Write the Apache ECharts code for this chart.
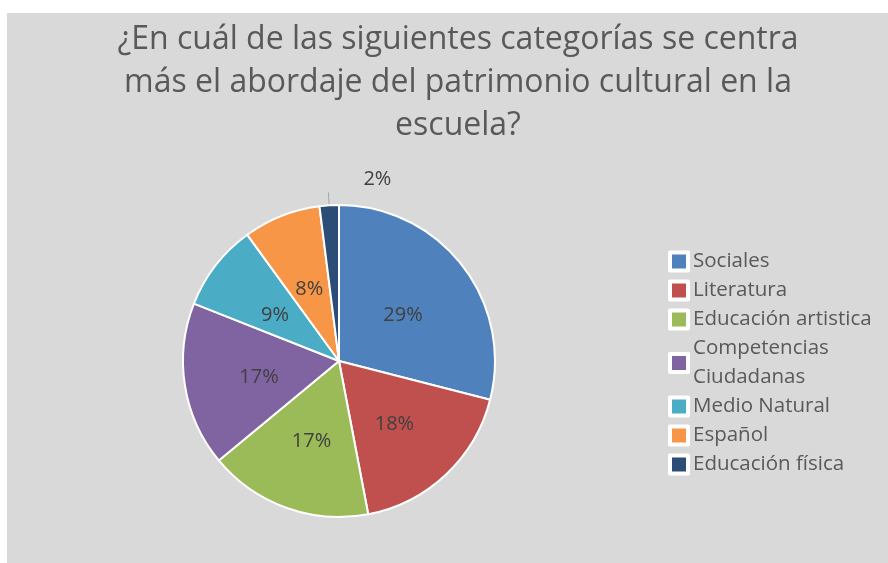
<!DOCTYPE html>
<html>
<head>
<meta charset="utf-8">
<script src="https://cdn.jsdelivr.net/npm/echarts@6/dist/echarts.min.js"></script>
<style>
  body { margin: 0; background: #ffffff; }
  #main { position: absolute; left: 7px; top: 13px; width: 881px; height: 550px; background: #d9d9d9; }
</style>
</head>
<body>
<div id="main"></div>
<script>
var categories = ['Sociales', 'Literatura', 'Educación artistica', 'Competencias\nCiudadanas', 'Medio Natural', 'Español', 'Educación física'];
var values = [29, 18, 17, 17, 9, 8, 2];
var colors = ['#4f81bd', '#c0504d', '#9bbb59', '#8064a2', '#4bacc6', '#f79646', '#2c4d75'];

var chart = echarts.init(document.getElementById('main'));

var pieData = categories.map(function (name, i) {
  var item = { name: name, value: values[i], itemStyle: { color: colors[i] } };
  if (i === categories.length - 1) {
    // small slice gets its label outside with a short tick
    item.label = { position: 'outside', offset: [68, -13] };
    item.labelLine = { show: true, length: 13, length2: 0, lineStyle: { color: '#a6a6a6', width: 1 } };
  }
  return item;
});

var option = {
  backgroundColor: '#d9d9d9',
  title: {
    text: '¿En cuál de las siguientes categorías se centra\nmás el abordaje del patrimonio cultural en la\nescuela?',
    left: 446,
    top: 0,
    textAlign: 'center',
    textStyle: {
      fontFamily: 'Open Sans',
      fontSize: 32,
      fontWeight: 'normal',
      color: '#595959',
      lineHeight: 43
    }
  },
  legend: {
    orient: 'vertical',
    left: 656,
    top: 229,
    itemGap: 0,
    itemWidth: 18,
    itemHeight: 18,
    icon: 'rect',
    itemStyle: { borderColor: '#ffffff', borderWidth: 4 },
    textStyle: { fontFamily: 'Open Sans', fontSize: 20.5, color: '#595959', lineHeight: 29 },
    data: categories
  },
  series: [{
    type: 'pie',
    center: [332, 348],
    radius: [0, 156],
    startAngle: 90,
    clockwise: true,
    avoidLabelOverlap: false,
    itemStyle: { borderColor: '#ffffff', borderWidth: 2 },
    label: {
      show: true,
      position: 'inside',
      formatter: '{c}%',
      fontFamily: 'Open Sans',
      fontSize: 20,
      color: '#404040',
      offset: [0, 4]
    },
    labelLine: { show: false },
    emphasis: { disabled: true },
    data: pieData
  }]
};

chart.setOption(option);
</script>
</body>
</html>
